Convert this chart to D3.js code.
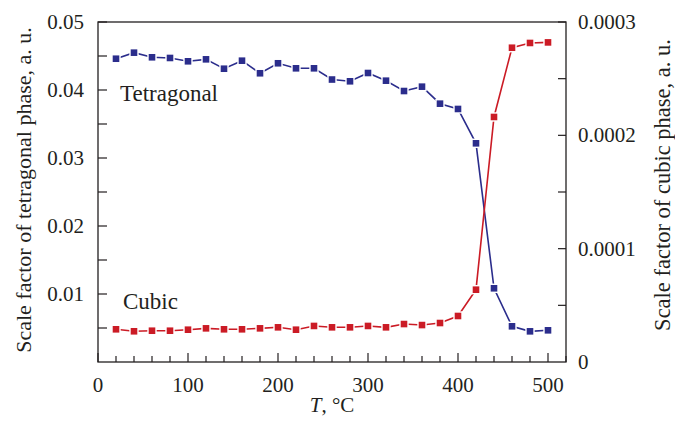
<!DOCTYPE html>
<html><head><meta charset="utf-8">
<script src="https://cdn.jsdelivr.net/npm/d3@7"></script>
<style>body{margin:0;background:#fff}svg{display:block}</style>
</head><body>
<svg id="c" width="675" height="424" font-family="'Liberation Serif', 'DejaVu Serif', serif" fill="#231f20"></svg>
<script>
const temperatures = [20,40,60,80,100,120,140,160,180,200,220,240,260,280,300,320,340,360,380,400,420,440,460,480,500];
const tetragonal = [0.0446,0.04549,0.04481,0.04471,0.04422,0.04451,0.04313,0.04431,0.04246,0.04393,0.04319,0.04319,0.04154,0.04128,0.0425,0.04137,0.03985,0.04049,0.03799,0.03721,0.03216,0.01084,0.00525,0.00451,0.00466];
const cubic = [2.885e-5,2.71e-5,2.76e-5,2.76e-5,2.85e-5,2.97e-5,2.885e-5,2.885e-5,2.97e-5,3.06e-5,2.85e-5,3.18e-5,3.06e-5,3.06e-5,3.18e-5,3.06e-5,3.35e-5,3.26e-5,3.44e-5,4.06e-5,6.38e-5,2.162e-4,2.773e-4,2.815e-4,2.82e-4];
const xTicks = [0,100,200,300,400,500];
const leftTicks = [0.01,0.02,0.03,0.04,0.05];
const leftTickLabels = ["0.01","0.02","0.03","0.04","0.05"];
const rightTicks = [0,0.0001,0.0002,0.0003];
const rightTickLabels = ["0","0.0001","0.0002","0.0003"];

const svg = d3.select("#c");
const L=98,R=566,T=22,B=362;
const x = d3.scaleLinear().domain([0,520]).range([L,R]);
const yL = d3.scaleLinear().domain([0,0.05]).range([B,T]);
const yR = d3.scaleLinear().domain([0,0.0003]).range([B,T]);
const ink="#231f20";
const blue="#2b2d8c", red="#cb1b25";

svg.append("rect").attr("x",L).attr("y",T).attr("width",R-L).attr("height",B-T)
  .attr("fill","none").attr("stroke",ink).attr("stroke-width",1.3);

const g=svg.append("g");
d3.range(0,521,20).forEach(v=>{
  const major = v%100===0;
  g.append("line").attr("x1",x(v)).attr("x2",x(v)).attr("y1",B).attr("y2",B-(major?9:6))
   .attr("stroke",ink).attr("stroke-width",1.2);
});
xTicks.forEach(v=>{
  svg.append("text").attr("x",x(v)).attr("y",392).attr("text-anchor","middle")
    .attr("font-size",21).text(v);
});
d3.range(0.005,0.0501,0.005).forEach(v=>{
  g.append("line").attr("x1",L).attr("x2",L+9).attr("y1",yL(v)).attr("y2",yL(v))
   .attr("stroke",ink).attr("stroke-width",1.2);
});
leftTicks.forEach((v,i)=>{
  svg.append("text").attr("x",84).attr("y",yL(v)+7).attr("text-anchor","end")
   .attr("font-size",21).text(leftTickLabels[i]);
});
d3.range(0.00005,0.000301,0.00005).forEach(v=>{
  g.append("line").attr("x1",R).attr("x2",R-8).attr("y1",yR(v)).attr("y2",yR(v))
   .attr("stroke",ink).attr("stroke-width",1.2);
});
rightTicks.forEach((v,i)=>{
  svg.append("text").attr("x",578).attr("y",yR(v)+7).attr("text-anchor","start")
   .attr("font-size",21).text(rightTickLabels[i]);
});

svg.append("text").attr("transform","translate(31,190) rotate(-90)").attr("text-anchor","middle")
  .attr("font-size",22).text("Scale factor of tetragonal phase, a. u.");
svg.append("text").attr("transform","translate(670,185) rotate(-90)").attr("text-anchor","middle")
  .attr("font-size",22.5).text("Scale factor of cubic phase, a. u.");
const xt = svg.append("text").attr("x",332).attr("y",412).attr("text-anchor","middle").attr("font-size",21);
xt.append("tspan").attr("font-style","italic").text("T");
xt.append("tspan").text(", °C");

function series(vals, ys, color){
  const pts = temperatures.map((t,i)=>[x(t), ys(vals[i])]);
  svg.append("path").attr("d",d3.line()(pts)).attr("fill","none").attr("stroke",color).attr("stroke-width",1.6);
  svg.append("g").selectAll("rect").data(pts).join("rect")
    .attr("x",d=>d[0]-4).attr("y",d=>d[1]-4).attr("width",8).attr("height",8)
    .attr("fill",color).attr("stroke","#fff").attr("stroke-width",1.4);
}
series(tetragonal,yL,blue);
series(cubic,yR,red);

svg.append("text").attr("x",120).attr("y",101).attr("font-size",23).text("Tetragonal");
svg.append("text").attr("x",123).attr("y",309).attr("font-size",23).text("Cubic");
</script>
</body></html>
